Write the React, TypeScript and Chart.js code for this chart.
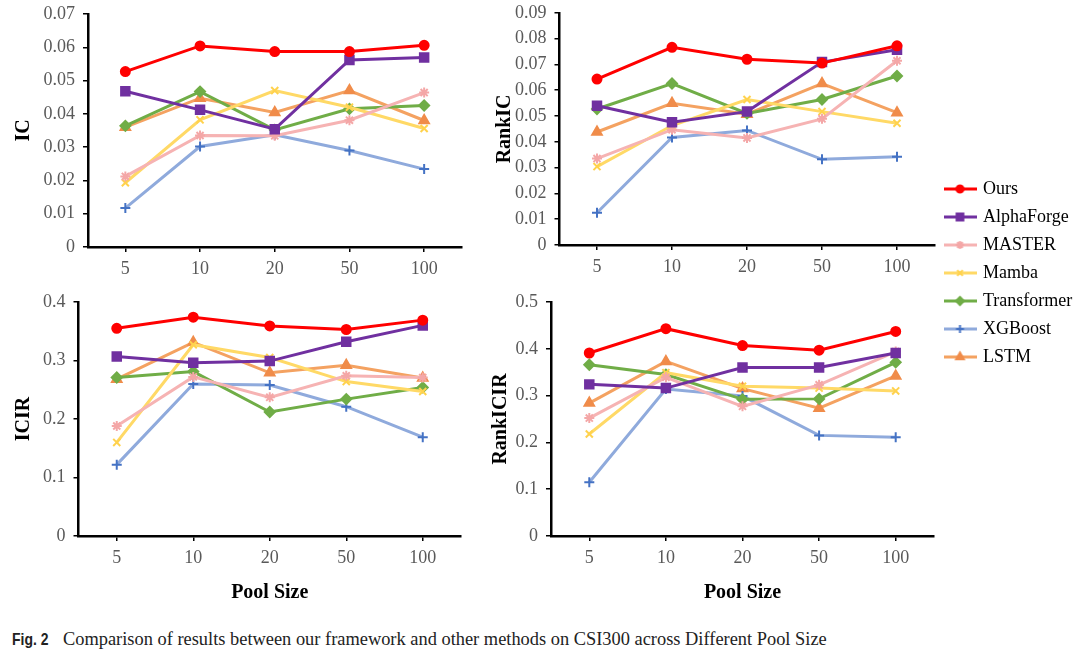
import React, { useEffect, useRef } from "react";
import { Chart, registerables } from "chart.js";
import { drawPoint } from "chart.js/helpers";

Chart.register(...registerables);

// ---------------- data ----------------
const poolSizes = ["5", "10", "20", "50", "100"];
const methods = ["Ours", "AlphaForge", "MASTER", "Mamba", "Transformer", "XGBoost", "LSTM"];

// rows follow `methods` order
const icValues = [
  [0.0527, 0.0604, 0.0587, 0.0587, 0.0606],
  [0.0468, 0.0412, 0.0354, 0.0562, 0.0569],
  [0.0212, 0.0335, 0.0334, 0.0381, 0.0464],
  [0.0193, 0.0382, 0.047, 0.042, 0.0356],
  [0.0364, 0.0467, 0.0352, 0.0415, 0.0425],
  [0.0117, 0.0302, 0.0337, 0.029, 0.0234],
  [0.036, 0.0447, 0.0404, 0.047, 0.038],
];
const rankIcValues = [
  [0.0643, 0.0766, 0.072, 0.0705, 0.0772],
  [0.054, 0.0476, 0.0517, 0.0709, 0.0757],
  [0.0335, 0.0447, 0.0415, 0.0489, 0.0714],
  [0.0304, 0.0463, 0.0564, 0.0517, 0.0472],
  [0.0527, 0.0626, 0.051, 0.0564, 0.0655],
  [0.0125, 0.0417, 0.0444, 0.0332, 0.0342],
  [0.0438, 0.0549, 0.0507, 0.0626, 0.0513],
];
const icirValues = [
  [0.355, 0.374, 0.359, 0.353, 0.369],
  [0.307, 0.296, 0.299, 0.332, 0.36],
  [0.188, 0.272, 0.237, 0.274, 0.271],
  [0.16, 0.327, 0.305, 0.264, 0.247],
  [0.271, 0.281, 0.212, 0.234, 0.254],
  [0.122, 0.26, 0.258, 0.221, 0.169],
  [0.268, 0.331, 0.279, 0.292, 0.27],
];
const rankIcirValues = [
  [0.391, 0.443, 0.407, 0.397, 0.437],
  [0.324, 0.316, 0.36, 0.36, 0.391],
  [0.252, 0.339, 0.277, 0.323, 0.394],
  [0.218, 0.349, 0.32, 0.316, 0.31],
  [0.366, 0.345, 0.292, 0.293, 0.371],
  [0.115, 0.314, 0.299, 0.215, 0.211],
  [0.284, 0.373, 0.315, 0.273, 0.342],
];

// ---------------- styles ----------------
const lineColors = ["#FF0000", "#7030A0", "#F6B3B3", "#FFD966", "#70AD47", "#8FAADC", "#F4A261"];
const markerColors = ["#FF0000", "#7030A0", "#F4A7A7", "#FFD24D", "#70AD47", "#4472C4", "#F08C4A"];
const markerStyles = ["circle", "rect", "star", "crossRot", "rectRot", "cross", "triangle"];
const markerRadius = [4.5, 6, 5, 5, 5, 5, 5.5];

const SERIF = "'Liberation Serif', 'Times New Roman', serif";
const TICK_COLOR = "#595959";

type Rect = { x: number; y: number; w: number; h: number };
type Area = { l: number; t: number; r: number; b: number };
type PanelSpec = {
  canvas: Rect;
  area: Area;
  titleCenter: number;
  xHeight: number;
  yTitle: string;
  xTitle?: string;
  values: number[][];
  yMax: number;
  step: number;
};

const panels: PanelSpec[] = [
  {
    canvas: { x: 0, y: -6, w: 480, h: 296 },
    area: { l: 88, t: 14, r: 461.5, b: 247 },
    titleCenter: 24,
    xHeight: 30,
    yTitle: "IC",
    values: icValues,
    yMax: 0.07,
    step: 0.01,
  },
  {
    canvas: { x: 480, y: -6, w: 480, h: 296 },
    area: { l: 559.5, t: 10, r: 934.5, b: 245 },
    titleCenter: 505,
    xHeight: 30,
    yTitle: "RankIC",
    values: rankIcValues,
    yMax: 0.09,
    step: 0.01,
  },
  {
    canvas: { x: 0, y: 280, w: 480, h: 340 },
    area: { l: 78.5, t: 302, r: 461, b: 536 },
    titleCenter: 24,
    xHeight: 69,
    yTitle: "ICIR",
    xTitle: "Pool Size",
    values: icirValues,
    yMax: 0.4,
    step: 0.1,
  },
  {
    canvas: { x: 480, y: 280, w: 480, h: 340 },
    area: { l: 551, t: 302, r: 934, b: 536 },
    titleCenter: 501,
    xHeight: 69,
    yTitle: "RankICIR",
    xTitle: "Pool Size",
    values: rankIcirValues,
    yMax: 0.5,
    step: 0.1,
  },
];

function buildConfig(p: PanelSpec): any {
  const padLeft = p.titleCenter - p.canvas.x - 12;
  const yWidth = p.area.l - p.canvas.x - padLeft;
  const padding = {
    left: padLeft,
    top: p.area.t - p.canvas.y,
    right: p.canvas.x + p.canvas.w - p.area.r,
    bottom: p.canvas.y + p.canvas.h - p.area.b - p.xHeight,
  };
  return {
    type: "line",
    data: {
      labels: poolSizes,
      datasets: methods.map((m, i) => ({
        label: m,
        data: p.values[i],
        borderColor: lineColors[i],
        backgroundColor: markerColors[i],
        borderWidth: 3,
        pointStyle: markerStyles[i],
        pointRadius: markerRadius[i],
        pointBackgroundColor: markerColors[i],
        pointBorderColor: markerColors[i],
        pointBorderWidth: 2,
        tension: 0,
        fill: false,
      })),
    },
    options: {
      animation: false,
      responsive: false,
      maintainAspectRatio: false,
      layout: { padding },
      plugins: {
        legend: { display: false },
        tooltip: { enabled: false },
      },
      scales: {
        x: {
          type: "category",
          offset: true,
          grid: {
            display: true,
            drawOnChartArea: false,
            drawTicks: true,
            tickLength: 5,
            color: "#000",
            lineWidth: 1.5,
            offset: false,
          },
          border: { display: true, color: "#000", width: 2.5 },
          ticks: {
            color: TICK_COLOR,
            font: { family: SERIF, size: 18 },
            padding: 6,
            autoSkip: false,
            maxRotation: 0,
          },
          title: p.xTitle
            ? {
                display: true,
                text: p.xTitle,
                color: "#000",
                font: { family: SERIF, size: 20, weight: "bold" },
                padding: 0,
              }
            : { display: false },
          afterFit: (s: any) => {
            s.height = p.xHeight;
          },
        },
        y: {
          min: 0,
          max: p.yMax,
          grid: {
            display: true,
            drawOnChartArea: false,
            drawTicks: true,
            tickLength: 5,
            color: "#000",
            lineWidth: 1.5,
          },
          border: { display: true, color: "#000", width: 2.5 },
          ticks: {
            stepSize: p.step,
            color: TICK_COLOR,
            font: { family: SERIF, size: 18 },
            padding: 8,
            autoSkip: false,
          },
          title: {
            display: true,
            text: p.yTitle,
            color: "#000",
            font: { family: SERIF, size: 20, weight: "bold" },
            padding: 0,
          },
          afterFit: (s: any) => {
            s.width = yWidth;
          },
        },
      },
    },
  };
}

function PanelChart({ spec }: { spec: PanelSpec }) {
  const ref = useRef<HTMLCanvasElement>(null);
  useEffect(() => {
    const chart = new Chart(ref.current as HTMLCanvasElement, buildConfig(spec));
    return () => chart.destroy();
  }, [spec]);
  return (
    <canvas
      ref={ref}
      width={spec.canvas.w}
      height={spec.canvas.h}
      style={{
        position: "absolute",
        left: spec.canvas.x,
        top: spec.canvas.y,
        width: spec.canvas.w,
        height: spec.canvas.h,
      }}
    />
  );
}

function legendImage(i: number): HTMLCanvasElement {
  const c = document.createElement("canvas");
  c.width = 33;
  c.height = 14;
  const ctx = c.getContext("2d") as CanvasRenderingContext2D;
  ctx.strokeStyle = lineColors[i];
  ctx.lineWidth = 3;
  ctx.beginPath();
  ctx.moveTo(0, 7);
  ctx.lineTo(33, 7);
  ctx.stroke();
  ctx.fillStyle = markerColors[i];
  ctx.strokeStyle = markerColors[i];
  ctx.lineWidth = 2;
  drawPoint(ctx, { pointStyle: markerStyles[i] as any, radius: markerRadius[i] * 0.8, rotation: 0, borderWidth: 2 } as any, 16.5, 7);
  return c;
}

const legendRect: Rect = { x: 936, y: 170, w: 144, h: 230 };

function LegendChart() {
  const ref = useRef<HTMLCanvasElement>(null);
  useEffect(() => {
    const images = methods.map((_, i) => legendImage(i));
    const chart = new Chart(ref.current as HTMLCanvasElement, {
      type: "line",
      data: {
        labels: [],
        datasets: methods.map((m, i) => ({
          label: m,
          data: [],
          borderColor: lineColors[i],
          backgroundColor: markerColors[i],
        })),
      },
      options: {
        animation: false,
        responsive: false,
        maintainAspectRatio: false,
        layout: { padding: 0 },
        scales: { x: { display: false }, y: { display: false } },
        plugins: {
          tooltip: { enabled: false },
          legend: {
            display: true,
            position: "left",
            align: "start",
            maxWidth: 200,
            labels: {
              usePointStyle: true,
              pointStyleWidth: 28,
              padding: 10,
              color: "#404040",
              font: { family: SERIF, size: 18 },
              generateLabels: () =>
                methods.map((m, i) => ({
                  text: m,
                  pointStyle: images[i] as any,
                  fillStyle: markerColors[i],
                  strokeStyle: lineColors[i],
                  lineWidth: 0,
                  hidden: false,
                  datasetIndex: i,
                })),
            },
          },
        },
      } as any,
    });
    return () => chart.destroy();
  }, []);
  return (
    <canvas
      ref={ref}
      width={legendRect.w}
      height={legendRect.h}
      style={{
        position: "absolute",
        left: legendRect.x,
        top: legendRect.y,
        width: legendRect.w,
        height: legendRect.h,
      }}
    />
  );
}

export default function App() {
  return (
    <div
      style={{
        position: "absolute",
        left: 0,
        top: 0,
        width: 1080,
        height: 661,
        overflow: "hidden",
        background: "#fff",
      }}
    >
      {panels.map((p, i) => (
        <PanelChart key={i} spec={p} />
      ))}
      <LegendChart />
      <div
        style={{
          position: "absolute",
          left: 12,
          top: 628,
          whiteSpace: "nowrap",
          lineHeight: "22px",
          color: "#222",
        }}
      >
        <span
          style={{
            display: "inline-block",
            fontFamily: "'Liberation Sans', Arial, sans-serif",
            fontWeight: "bold",
            fontSize: 17,
            transform: "scaleX(0.82)",
            transformOrigin: "left center",
            width: 38,
          }}
        >
          Fig. 2
        </span>
        <span style={{ fontFamily: SERIF, fontSize: 18.4, marginLeft: 13 }}>
          Comparison of results between our framework and other methods on CSI300 across Different Pool Size
        </span>
      </div>
    </div>
  );
}
